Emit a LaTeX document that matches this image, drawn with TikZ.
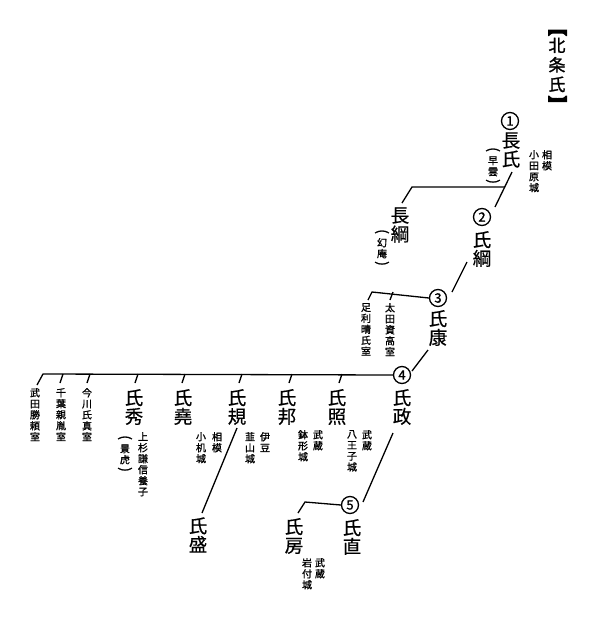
\documentclass[tikz,border=0pt]{standalone}
\usepackage{fontspec}
\newfontfamily\jp[FakeBold=0.6]{Noto Sans CJK JP}
\newfontfamily\jpn[FakeBold=1.2]{Noto Sans CJK JP}
\newcommand{\vpl}{\rotatebox[origin=c]{-90}{\fontsize{14}{14}\selectfont(}}
\newcommand{\vpr}{\rotatebox[origin=c]{-90}{\fontsize{14}{14}\selectfont)}}
\begin{document}
\begin{tikzpicture}[x=1pt,y=-1pt,
  nm/.style={font=\jp\fontsize{18.5}{18.8}\selectfont, align=center, inner sep=0pt},
  note/.style={font=\jpn\fontsize{10}{11}\selectfont, align=center, inner sep=0pt, anchor=north},
  gen/.style={draw, circle, minimum size=17pt, inner sep=0pt, line width=1.3pt, font=\jpn\fontsize{13}{13}\selectfont},
  ln/.style={line width=1.3pt}]
\useasboundingbox (0,0) rectangle (600,622);
% title
\node[font=\jpn\fontsize{17}{19.5}\selectfont, align=center, inner sep=0pt] (title) at (557,65) {北\\条\\氏};
\fill (548,29.5) -- (567,29.5) -- (567,36) -- (566,36) .. controls (564,33.5) .. (557.5,33.5) .. controls (551,33.5) .. (549,36) -- (548,36) -- cycle;
\fill (548,102) -- (567,102) -- (567,95.5) -- (566,95.5) .. controls (564,98) .. (557.5,98) .. controls (551,98) .. (549,95.5) -- (548,95.5) -- cycle;
% generation 1
\node[gen] (c1) at (510,121) {1};
\node[nm] (n1) at (511,150) {長\\氏};
\node[note] (soun) at (493,147) {\vpl\\[-0.5pt]早\\雲\\[-0.5pt]\vpr};
\node[note] (sagami1) at (547,150) {相\\模};
\node[note] (odawara) at (534,150) {小\\田\\原\\城};
% Nagatsuna
\node[nm] (choko) at (400,225) {長\\綱};
\node[note] (genan) at (382,229) {\vpl\\[-0.5pt]幻\\庵\\[-0.5pt]\vpr};
% generation 2
\node[gen] (c2) at (482,217) {2};
\node[nm] (n2) at (482,249) {氏\\綱};
% generation 3
\node[gen] (c3) at (438,298) {3};
\node[nm] (n3) at (438,328) {氏\\康};
\node[note] (ashikaga) at (366,303) {足\\利\\晴\\氏\\室};
\node[note] (oota) at (390,303) {太\\田\\資\\高\\室};
% generation 4
\node[gen] (c4) at (402,375) {4};
\node[nm] (n4) at (402,407) {氏\\政};
\node[note] (takeda) at (35,388) {武\\田\\勝\\頼\\室};
\node[note] (chiba) at (61,388) {千\\葉\\親\\胤\\室};
\node[note] (imagawa) at (87,388) {今\\川\\氏\\真\\室};
\node[nm] (ujihide) at (134,407) {氏\\秀};
\node[note] (kagetora) at (125,435) {\vpl\\[-0.5pt]景\\虎\\[-0.5pt]\vpr};
\node[note] (uesugi) at (143,432) {上\\杉\\謙\\信\\養\\子};
\node[nm] (ujitaka) at (183,407) {氏\\堯};
\node[nm] (ujinori) at (237,407) {氏\\規};
\node[note] (sagami2) at (217,432) {相\\模};
\node[note] (kozukue) at (201,432) {小\\机\\城};
\node[nm] (ujikuni) at (287,407) {氏\\邦};
\node[note] (izu) at (265,432) {伊\\豆};
\node[note] (nirayama) at (250,432) {韮\\山\\城};
\node[nm] (ujiteru) at (337,407) {氏\\照};
\node[note] (musashi1) at (318,430) {武\\蔵};
\node[note] (hachigata) at (303,430) {鉢\\形\\城};
\node[note] (musashi2) at (367,430) {武\\蔵};
\node[note] (hachioji) at (352,430) {八\\王\\子\\城};
\node[nm] (ujimori) at (198,535) {氏\\盛};
% generation 5
\node[gen] (c5) at (350,505) {5};
\node[nm] (n5) at (352,537) {氏\\直};
\node[nm] (ujifusa) at (294,536) {氏\\房};
\node[note] (musashi3) at (320,558) {武\\蔵};
\node[note] (iwatsuki) at (307,558) {岩\\付\\城};
% junction coordinates
\coordinate (a1) at (512,172); \coordinate (a2) at (495,207);
\coordinate (h1r) at (505,187); \coordinate (h1l) at (412,187); \coordinate (t1) at (402,203);
\coordinate (b1) at (467,262); \coordinate (b2) at (452,292);
\coordinate (h2l) at (372,292); \coordinate (t2) at (368,300);
\coordinate (k2) at (393,292); \coordinate (k2e) at (390,300);
\coordinate (d1) at (428,350); \coordinate (d2) at (412,371);
\coordinate (h3l) at (43,374); \coordinate (t3) at (37,385);
\coordinate (e1) at (237,428); \coordinate (e2) at (202,513);
\coordinate (f1) at (393,433); \coordinate (f2) at (363,502);
\coordinate (h5l) at (305,502); \coordinate (t5) at (298,513);
% connectors
\draw[ln] (a1) -- (a2);
\draw[ln] (h1r) -- (h1l) -- (t1);
\draw[ln] (b1) -- (b2);
\draw[ln] (c3.west) -- (h2l) -- (t2);
\draw[ln] (k2) -- (k2e);
\draw[ln] (d1) -- (d2);
\draw[ln] (c4.west) -- (h3l) -- (t3);
\foreach \x in {63,90,138,185,242,292,342} \draw[ln] (\x,374) -- (\x-3,383);
\draw[ln] (e1) -- (e2);
\draw[ln] (f1) -- (f2);
\draw[ln] (c5.west) -- (h5l) -- (t5);
\end{tikzpicture}
\end{document}
